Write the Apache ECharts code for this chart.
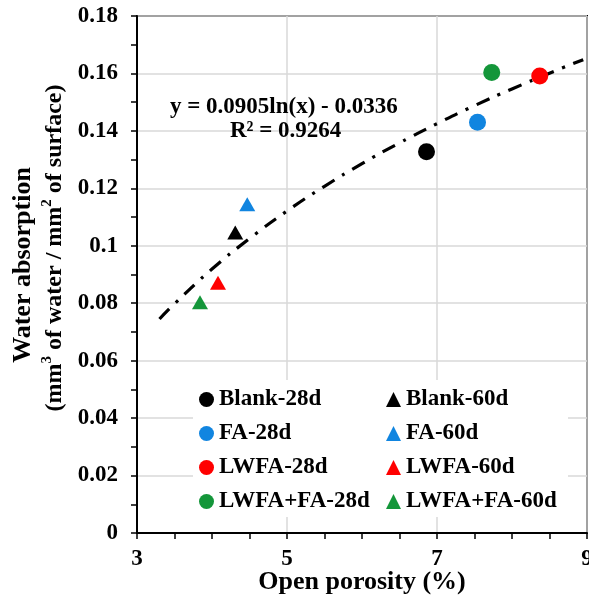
<!DOCTYPE html>
<html>
<head>
<meta charset="utf-8">
<script src="https://cdn.jsdelivr.net/npm/echarts@6/dist/echarts.min.js"></script>
<style>
  html, body { margin: 0; padding: 0; background: #fff; }
  #chart { width: 589px; height: 600px; }
</style>
</head>
<body>
<div id="chart"></div>
<script>
var font = 'Liberation Serif';

// measured points (open porosity %, water absorption)
var names28 = ['Blank-28d', 'FA-28d', 'LWFA-28d', 'LWFA+FA-28d'];
var names60 = ['Blank-60d', 'FA-60d', 'LWFA-60d', 'LWFA+FA-60d'];
var colors = ['#000000', '#1185e0', '#ff0000', '#14963a'];
var x28 = [6.86, 7.54, 8.37, 7.73];
var y28 = [0.1327, 0.143, 0.1591, 0.1603];
var x60 = [4.31, 4.47, 4.08, 3.84];
var y60 = [0.1046, 0.1145, 0.0871, 0.0803];

// log trend line
var trendX = [3.3, 3.5, 4, 4.5, 5, 5.5, 6, 6.5, 7, 7.5, 8, 8.5, 8.95];
var trendY = [0.0745, 0.0798, 0.0919, 0.1025, 0.1121, 0.1207, 0.1286, 0.1358, 0.1425, 0.1488, 0.1546, 0.1601, 0.1648];

var chart = echarts.init(document.getElementById('chart'));

var series = [];
names28.forEach(function (n, i) {
  series.push({
    name: n, type: 'scatter', symbol: 'circle', symbolSize: 17,
    itemStyle: { color: colors[i], opacity: 1 },
    data: [[x28[i], y28[i]]], z: 3
  });
});
names60.forEach(function (n, i) {
  series.push({
    name: n, type: 'scatter', symbol: 'triangle', symbolSize: [16, 14],
    itemStyle: { color: colors[i], opacity: 1 },
    data: [[x60[i], y60[i]]], z: 3
  });
});
series.push({
  name: 'trend', type: 'line', smooth: true, showSymbol: false, silent: true,
  lineStyle: { color: '#000', width: 3.2, type: [14, 9, 3, 9] },
  data: trendX.map(function (x, i) { return [x, trendY[i]]; }),
  z: 2
});

var legendText = { fontFamily: font, fontWeight: 'bold', fontSize: 23, color: '#000', lineHeight: 23 };

var option = {
  backgroundColor: '#fff',
  animation: false,
  grid: {
    left: 137, right: 2, top: 16, bottom: 67, outerBoundsMode: 'none',
    show: true, borderColor: '#000', borderWidth: 2
  },
  xAxis: {
    type: 'value', min: 3, max: 9, interval: 2,
    name: 'Open porosity (%)', nameLocation: 'middle', nameGap: 36, nameMoveOverlap: false,
    nameTextStyle: { fontFamily: font, fontWeight: 'bold', fontSize: 26, color: '#000' },
    axisLine: { show: true, lineStyle: { color: '#000', width: 2 } },
    axisTick: { show: true, length: 6, lineStyle: { color: '#000', width: 1.5 } },
    minorTick: { show: true, splitNumber: 4, length: 6, lineStyle: { color: '#000', width: 1.5 } },
    axisLabel: { fontFamily: font, fontWeight: 'bold', fontSize: 23, color: '#000', margin: 15 },
    splitLine: { show: true, lineStyle: { color: '#d9d9d9', width: 1.5 } }
  },
  yAxis: {
    type: 'value', min: 0, max: 0.18, interval: 0.02,
    axisLine: { show: true, lineStyle: { color: '#000', width: 2 } },
    axisTick: { show: true, length: 6, lineStyle: { color: '#000', width: 1.5 } },
    minorTick: { show: true, splitNumber: 2, length: 6, lineStyle: { color: '#000', width: 1.5 } },
    axisLabel: { fontFamily: font, fontWeight: 'bold', fontSize: 23, color: '#000', margin: 19 },
    splitLine: { show: true, lineStyle: { color: '#d9d9d9', width: 1.5 } }
  },
  legend: [
    {
      data: names28, orient: 'vertical', left: 199, top: 388, itemGap: 11,
      itemWidth: 15, itemHeight: 15, textStyle: legendText, padding: 0
    },
    {
      data: names60, orient: 'vertical', left: 386, top: 388, itemGap: 11,
      itemWidth: 15, itemHeight: 15, textStyle: legendText, padding: 0
    }
  ],
  graphic: [
    { type: 'rect', z: 1, shape: { x: 193, y: 380, width: 375, height: 137 }, style: { fill: '#fff' } },
    { type: 'text', z: 5, left: 170, top: 96, style: { text: 'y = 0.0905ln(x) - 0.0336', font: 'bold 23px "Liberation Serif"', fill: '#000' } },
    { type: 'text', z: 5, left: 230, top: 120, style: { text: 'R² = 0.9264', font: 'bold 23px "Liberation Serif"', fill: '#000' } },
    {
      type: 'text', z: 5, x: 23, y: 265, rotation: Math.PI / 2,
      style: { text: 'Water absorption', font: 'bold 26px "Liberation Serif"', fill: '#000', align: 'center', verticalAlign: 'middle' }
    },
    {
      type: 'text', z: 5, x: 55, y: 248, rotation: Math.PI / 2,
      style: {
        text: '{a|(mm}{s|3}{a| of water / mm}{s|2}{a| of surface)}',
        align: 'center', verticalAlign: 'middle',
        rich: {
          a: { fontFamily: font, fontWeight: 'bold', fontSize: 24, color: '#000', lineHeight: 30 },
          s: { fontFamily: font, fontWeight: 'bold', fontSize: 15, color: '#000', lineHeight: 30, verticalAlign: 'top', padding: [0, 0, 10, 0] }
        }
      }
    }
  ],
  series: series
};

chart.setOption(option);
</script>
</body>
</html>
